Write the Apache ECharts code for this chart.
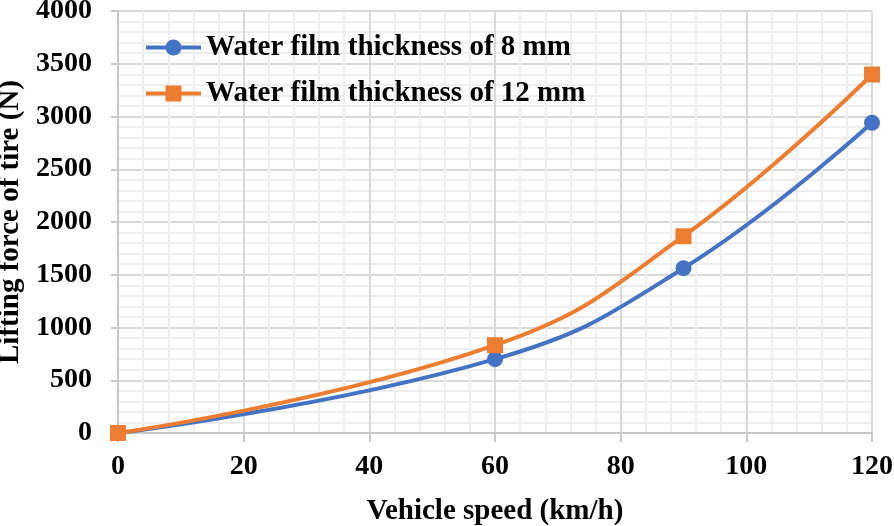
<!DOCTYPE html>
<html>
<head>
<meta charset="utf-8">
<script src="https://cdn.jsdelivr.net/npm/echarts@6/dist/echarts.min.js"></script>
<style>html,body{margin:0;padding:0;background:#fff}#c{width:894px;height:526px}</style>
</head>
<body>
<div id="c"></div>
<script>
var speeds = [0, 60, 90, 120];
var film8 = [0, 700, 1562, 2940];
var film12 = [0, 832, 1865, 3398];
var seriesNames = ['Water film thickness of 8 mm', 'Water film thickness of 12 mm'];
var xName = 'Vehicle speed (km/h)';
var yName = 'Lifting force of tire (N)';

var font = 'Liberation Serif, Times New Roman, serif';
function pairs(xs, ys){ return xs.map(function(x,i){ return [x, ys[i]]; }); }

var chart = echarts.init(document.getElementById('c'), null, {renderer:'canvas'});
chart.setOption({
  animation: false,
  backgroundColor: '#fff',
  grid: {left: 118, right: 22, top: 11, bottom: 93, containLabel: false, outerBoundsMode: 'none'},
  legend: {
    left: 139, top: 28, orient: 'vertical', itemGap: 17, itemWidth: 55, itemHeight: 20,
    lineStyle: {width: 4},
    textStyle: {fontFamily: font, fontWeight: 'bold', fontSize: 29, color: '#000'},
    data: seriesNames
  },
  xAxis: {
    type: 'value', min: 0, max: 120, interval: 20,
    name: xName, nameLocation: 'middle', nameGap: 64,
    nameTextStyle: {fontFamily: font, fontWeight: 'bold', fontSize: 29, color: '#000'},
    axisLine: {show: true, lineStyle: {color: '#c8c8c8', width: 2}},
    axisTick: {show: true, length: 9, lineStyle: {color: '#c8c8c8', width: 2}},
    axisLabel: {fontFamily: font, fontWeight: 'bold', fontSize: 28, color: '#000', margin: 20},
    splitLine: {show: true, lineStyle: {color: '#d9d9d9', width: 2}},
    minorTick: {show: false, splitNumber: 5},
    minorSplitLine: {show: true, lineStyle: {color: '#eeeeee', width: 2}}
  },
  yAxis: {
    type: 'value', min: 0, max: 4000, interval: 500,
    name: yName, nameLocation: 'middle', nameGap: 86,
    nameTextStyle: {fontFamily: font, fontWeight: 'bold', fontSize: 29, color: '#000'},
    axisLine: {show: true, lineStyle: {color: '#c8c8c8', width: 2}},
    axisTick: {show: true, length: 7, lineStyle: {color: '#c8c8c8', width: 2}},
    axisLabel: {fontFamily: font, fontWeight: 'bold', fontSize: 28, color: '#000', margin: 26,
      formatter: function(v){ return String(v); }},
    splitLine: {show: true, lineStyle: {color: '#d9d9d9', width: 2}},
    minorTick: {show: false, splitNumber: 5},
    minorSplitLine: {show: true, lineStyle: {color: '#eeeeee', width: 2}}
  },
  series: [
    {
      name: seriesNames[0], type: 'line', data: pairs(speeds, film8), smooth: 0.45,
      symbol: 'circle', symbolSize: 16, clip: false,
      itemStyle: {color: '#4472C4'}, lineStyle: {color: '#4472C4', width: 4}
    },
    {
      name: seriesNames[1], type: 'line', data: pairs(speeds, film12), smooth: 0.45,
      symbol: 'rect', symbolSize: 16, clip: false,
      itemStyle: {color: '#ED7D31'}, lineStyle: {color: '#ED7D31', width: 4}
    }
  ]
});
</script>
</body>
</html>
